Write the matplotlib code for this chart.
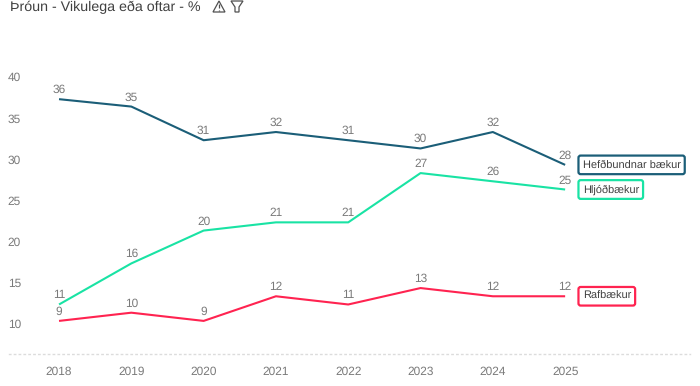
from matplotlib import pyplot as plt
from matplotlib.patches import Polygon

plt.rcParams['font.family'] = ['Liberation Sans', 'DejaVu Sans']
plt.rcParams['text.hinting'] = 'no_hinting'

years = ['2018', '2019', '2020', '2021', '2022', '2023', '2024', '2025']
y_ticks = [10, 15, 20, 25, 30, 35, 40]

# line heights as read against the axis
hefd = [37.3, 36.4, 32.3, 33.3, 32.3, 31.3, 33.3, 29.3]
hljod = [12.3, 17.3, 21.3, 22.3, 22.3, 28.3, 27.3, 26.3]
raf = [10.3, 11.3, 10.3, 13.3, 12.3, 14.3, 13.3, 13.3]

# printed labels, these sit lower than the axis says
hefd_labels = [36, 35, 31, 32, 31, 30, 32, 28]
hljod_labels = [11, 16, 20, 21, 21, 27, 26, 25]
raf_labels = [9, 10, 9, 12, 11, 13, 12, 12]

names = ['Hefðbundnar bækur', 'Hljóðbækur', 'Rafbækur']
colors = ['#1b5e78', '#19e3a4', '#ff2350']
GREY = '#7a7a7a'

W, H = 700, 386
fig = plt.figure(figsize=(W / 100, H / 100), dpi=100)
ax = fig.add_axes([9 / W, 1 - 354 / H, 681 / W, 294 / H])

x = list(range(len(years)))
series = [(hefd, hefd_labels), (hljod, hljod_labels), (raf, raf_labels)]
for (vals, labels), name, c in zip(series, names, colors):
    ax.plot(x, vals, color=c, lw=1.5, solid_capstyle='butt')
    for i, v in enumerate(vals):
        ax.annotate(str(labels[i]), (i, v), xytext=(0, 2.6), textcoords='offset points',
                    ha='center', va='bottom', fontsize=8.6, color=GREY)
    ax.annotate(name, (7, vals[-1]), xytext=(12.6, 0), textcoords='offset points',
                ha='left', va='center', fontsize=7.9, color='#404040',
                bbox=dict(boxstyle='round,pad=0.38,rounding_size=0.2', fc='white', ec=c, lw=1.6),
                annotation_clip=False)

ax.set_xlim(-0.692, 8.727)
ax.set_ylim(6.27, 42.07)
ax.set_xticks(x, years)
ax.set_yticks(y_ticks, [str(t) for t in y_ticks])
ax.tick_params(axis='both', length=0, labelsize=8.6, labelcolor=GREY)
ax.tick_params(axis='x', pad=9)
ax.tick_params(axis='y', pad=-8.6)
for s in ['top', 'left', 'right']:
    ax.spines[s].set_visible(False)
ax.spines['bottom'].set_color('#dcdcdc')
ax.spines['bottom'].set_linestyle((0, (1, 2.5)))
ax.spines['bottom'].set_linewidth(1)

fig.text(10 / W, 1 - 7 / H, 'Þróun - Vikulega eða oftar - %', fontsize=10.3,
         color='#404040', ha='left', va='center')


def px(pts):
    return [(a / W, 1 - b / H) for a, b in pts]


# warning and filter icons next to the title
fig.add_artist(Polygon(px([(219, 1), (213, 12), (225, 12)]), closed=True, fill=False,
                       ec='#505050', lw=0.9, transform=fig.transFigure))
fig.add_artist(Polygon(px([(219, 4), (219, 8)]), closed=False, fill=False,
                       ec='#505050', lw=0.9, transform=fig.transFigure))
fig.add_artist(Polygon(px([(219, 9.5), (219, 10.7)]), closed=False, fill=False,
                       ec='#505050', lw=0.9, transform=fig.transFigure))
fig.add_artist(Polygon(px([(231, 1), (243, 1), (239, 7), (239, 12), (235, 12), (235, 7)]),
                       closed=True, fill=False, ec='#505050', lw=0.9,
                       transform=fig.transFigure))

fig.savefig('out.png', dpi=100)
